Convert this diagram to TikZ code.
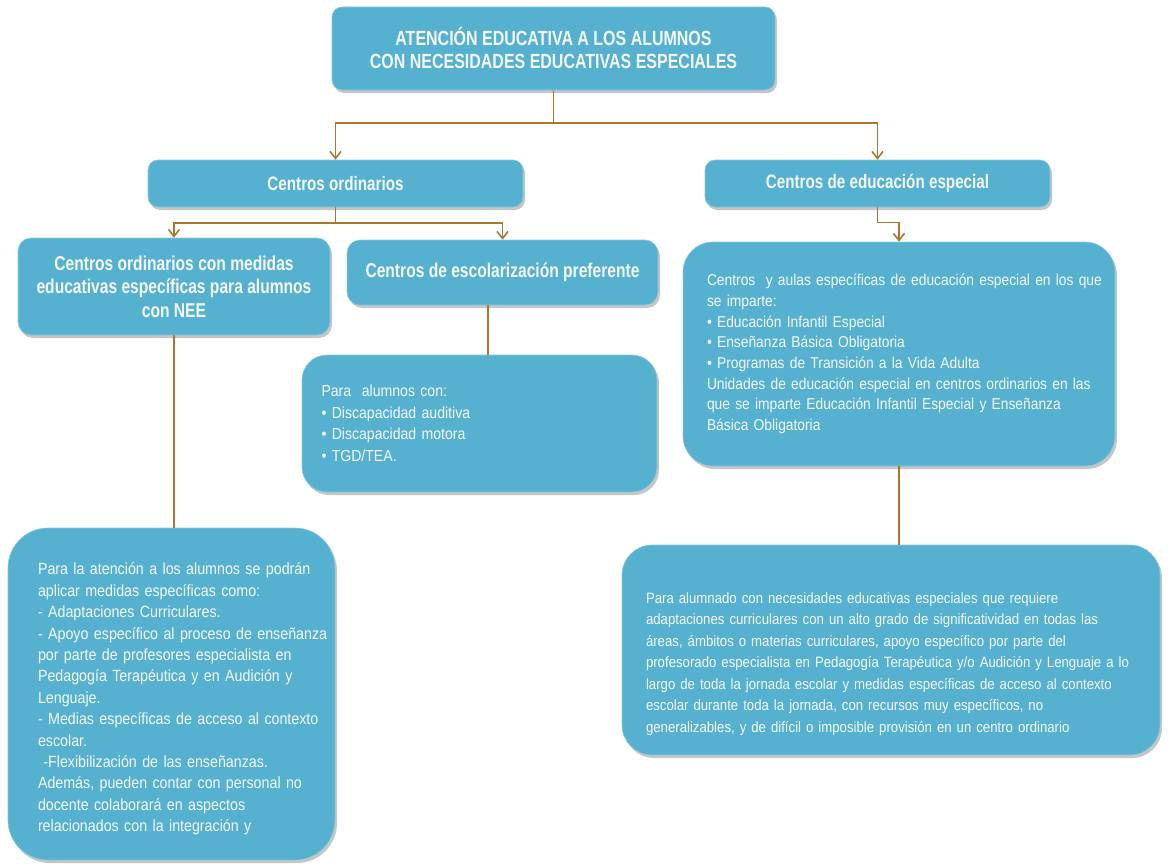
\documentclass[tikz,border=0pt]{standalone}
\usepackage{fontspec}
\setmainfont{Liberation Sans}[FakeStretch=0.88]
\newfontfamily\hdrfont{Liberation Sans Bold}[FakeStretch=0.78]
\usepackage{tikz}
\usetikzlibrary{arrows.meta,positioning,calc,shadows}
\definecolor{sky}{HTML}{55B1CF}
\definecolor{skyedge}{HTML}{8CC8DC}
\definecolor{bronze}{HTML}{A8782C}
\definecolor{snow}{HTML}{F5F8FA}
\newcommand{\bodyfont}[2]{\fontsize{#1}{#2}\selectfont\spaceskip=0.19em plus 0.05em minus 0.03em\relax}
\tikzset{arr/.style={-{Straight Barb[length=7pt,width=11pt]},line width=1.6pt,draw=bronze},
  link/.style={line width=1.6pt,draw=bronze},
  box/.style={fill=sky,draw=skyedge,line width=0.6pt,text=snow,inner sep=0pt,
    drop shadow={shadow xshift=2pt,shadow yshift=-3pt,opacity=0.45}},
  hdr/.style={box,rounded corners=10pt,align=center,font=\fontsize{19.5}{23}\hdrfont},
  card/.style={box,align=left}}

\begin{document}
\begin{tikzpicture}[x=1pt,y=-1pt]
\useasboundingbox (0,0) rectangle (1172,867);
\node[hdr,minimum width=443pt,minimum height=83pt,font=\fontsize{20.5}{23}\hdrfont] (title) at (553.5,48.5) {ATENCIÓN EDUCATIVA A LOS ALUMNOS\\CON NECESIDADES EDUCATIVAS ESPECIALES};
\node[hdr,minimum width=375pt,minimum height=47pt] (ord) at (335.5,183.5) {Centros ordinarios};
\node[hdr,minimum width=345pt,minimum height=47pt] (esp) at (877.5,183.5) {Centros de educación especial};
\node[hdr,minimum width=312pt,minimum height=97pt,rounded corners=13pt,font=\fontsize{20}{23.5}\hdrfont] (ordnee) at (174,286.5) {Centros ordinarios con medidas\\educativas específicas para alumnos\\con NEE};
\node[hdr,minimum width=311pt,minimum height=65pt,rounded corners=13pt,font=\fontsize{20}{23.5}\hdrfont] (pref) at (502.5,272.5) {Centros de escolarización preferente};
\node[card,rounded corners=25pt,text width=316pt,inner xsep=19.5pt,minimum height=137pt,font=\bodyfont{16}{21.5}] (prefdet) at (479.5,423.5) {Para \ alumnos con:\\• Discapacidad auditiva\\• Discapacidad motora\\• TGD/TEA.};
\node[card,rounded corners=30pt,text width=384pt,inner xsep=24pt,minimum height=224pt,font=\bodyfont{15.7}{20.7}] (espdet) at (899,354) {\begin{tabular}{@{}l@{}}Centros \ y aulas específicas de educación especial en los que\\se imparte:\\• Educación Infantil Especial\\• Enseñanza Básica Obligatoria\\• Programas de Transición a la Vida Adulta\\Unidades de educación especial en centros ordinarios en las\\que se imparte Educación Infantil Especial y Enseñanza\\Básica Obligatoria\end{tabular}};
\node[card,rounded corners=40pt,text width=267pt,inner xsep=30pt,minimum height=332pt,font=\bodyfont{16.2}{21.4}] (needet) at (171.5,694) {\begin{tabular}{@{}l@{}}\rule{0pt}{25pt}Para la atención a los alumnos se podrán\\aplicar medidas específicas como:\\- Adaptaciones Curriculares.\\- Apoyo específico al proceso de enseñanza\\por parte de profesores especialista en\\Pedagogía Terapéutica y en Audición y\\Lenguaje.\\- Medias específicas de acceso al contexto\\escolar.\\ \ -Flexibilización de las enseñanzas.\\Además, pueden contar con personal no\\docente colaborará en aspectos\\relacionados con la integración y\end{tabular}};
\node[card,rounded corners=30pt,text width=490pt,inner xsep=24pt,minimum height=210pt,font=\bodyfont{15}{21.5}] (espalum) at (891,650) {\begin{tabular}{@{}l@{}}\rule{0pt}{42pt}Para alumnado con necesidades educativas especiales que requiere\\adaptaciones curriculares con un alto grado de significatividad en todas las\\áreas, ámbitos o materias curriculares, apoyo específico por parte del\\profesorado especialista en Pedagogía Terapéutica y/o Audición y Lenguaje a lo\\largo de toda la jornada escolar y medidas específicas de acceso al contexto\\escolar durante toda la jornada, con recursos muy específicos, no\\generalizables, y de difícil o imposible provisión en un centro ordinario\end{tabular}};
\coordinate (split) at (title.south |- 0,123);
\coordinate (fork) at (ord.south |- 0,223);
\draw[arr] (title.south) -- (split) -| (ord.north);
\draw[arr] (split) -| (esp.north);
\draw[arr] (ord.south) -- (fork) -| (ordnee.north);
\draw[arr] (fork) -| (pref.north);
\draw[arr] (esp.south) -- ++(0,15) -| (espdet.north);
\draw[link] (ordnee.south) -- (ordnee.south |- needet.north);
\draw[link] ([xshift=-14.5pt]pref.south) -- ([xshift=-14.5pt]pref.south |- prefdet.north);
\draw[link] (espdet.south) -- (espdet.south |- espalum.north);
\end{tikzpicture}
\end{document}
